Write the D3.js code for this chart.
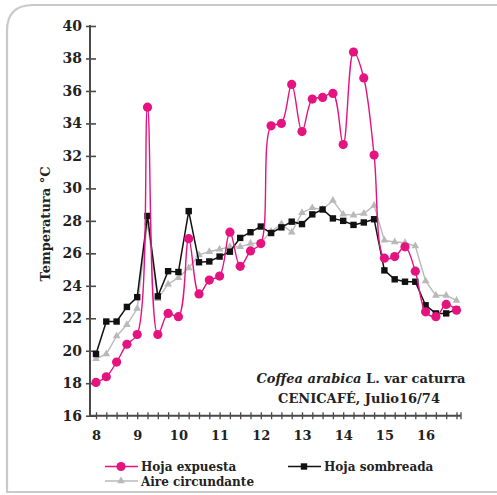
<!DOCTYPE html>
<html>
<head>
<meta charset="utf-8">
<script src="https://cdn.jsdelivr.net/npm/d3@7/dist/d3.min.js"></script>
<style>
  html, body { margin: 0; padding: 0; background: #fff; }
  svg { display: block; }
  text { font-family: "DejaVu Serif", serif; font-weight: bold; fill: #222; }
</style>
</head>
<body>
<svg id="chart" width="497" height="495"></svg>
<script>
// Hour of day (every 15 minutes, 8:00 to 16:45)
const hours = d3.range(8, 17, 0.25);

// Temperature (°C) of the sun-exposed leaf
const hojaExpuesta = [
  18.05, 18.4, 19.3, 20.4, 21.0, 35.0, 21.0, 22.3, 22.1, 26.9,
  23.5, 24.35, 24.6, 27.3, 25.2, 26.15, 26.6, 33.85, 34.0, 36.4,
  33.5, 35.5, 35.6, 35.85, 32.7, 38.4, 36.8, 32.05, 25.7, 25.8,
  26.4, 24.9, 22.4, 22.1, 22.85, 22.5
];

// Temperature (°C) of the shaded leaf
const hojaSombreada = [
  19.8, 21.8, 21.8, 22.7, 23.3, 28.3, 23.35, 24.9, 24.85, 28.6,
  25.45, 25.5, 25.8, 26.1, 26.95, 27.3, 27.65, 27.25, 27.6, 27.95,
  27.8, 28.4, 28.7, 28.15, 28.0, 27.75, 27.9, 28.1, 24.95, 24.4,
  24.25, 24.25, 22.8, 22.3, 22.3, 22.55
];

// Temperature (°C) of the surrounding air
const aireCircundante = [
  19.5, 19.8, 20.9, 21.6, 22.6, 27.9, 23.2, 24.1, 24.5, 25.1,
  25.9, 26.1, 26.25, 26.4, 26.4, 26.6, 26.65, 27.35, 27.8, 27.3,
  28.5, 28.8, 28.7, 29.25, 28.4, 28.35, 28.45, 28.95, 26.8, 26.7,
  26.65, 26.45, 24.3, 23.4, 23.4, 23.1
];

const yTicks = [16, 18, 20, 22, 24, 26, 28, 30, 32, 34, 36, 38, 40];
const xLabels = [8, 9, 10, 11, 12, 13, 14, 15, 16];
const xTicks = d3.range(8, 17, 0.25);

const seriesNames = ["Hoja expuesta", "Hoja sombreada", "Aire circundante"];
const titleItalic = "Coffea arabica";
const titleRest = " L. var caturra";
const subtitle = "CENICAFÉ, Julio16/74";
const yTitle = "Temperatura °C";

const PINK = "#e5137f";
const BLACK = "#111";
const GREY = "#b9b9b9";

const svg = d3.select("#chart");

// rounded panel outline
svg.append("path")
  .attr("d", "M7,493 L7,31 Q7,5 33,5 L497,5 M7,492 L497,492")
  .attr("fill", "none")
  .attr("stroke", "#c9c9c9")
  .attr("stroke-width", 2.2);

const x = d3.scaleLinear().domain([8, 17]).range([96, 466.8]);
const y = d3.scaleLinear().domain([16, 40]).range([415.7, 26]);

const axisColor = "#4a4a4a";

// y axis
const gy = svg.append("g").attr("transform", "translate(90,0)")
  .call(d3.axisLeft(y).tickValues(yTicks).tickSize(0).tickPadding(8));
gy.select(".domain").remove();
gy.selectAll(".tick line").attr("x1", -4).attr("x2", 6)
  .attr("stroke", axisColor).attr("stroke-width", 1.6);
gy.selectAll(".tick text").attr("font-size", 14).attr("fill", "#222")
  .style("font-family", "'DejaVu Serif', serif").style("font-weight", "bold");
svg.append("line").attr("x1", 90).attr("x2", 90).attr("y1", y(40) - 1).attr("y2", y(16))
  .attr("stroke", axisColor).attr("stroke-width", 2);

// x axis: quarter-hour ticks, labels on the hour
const gx = svg.append("g").attr("transform", `translate(0,${y(16)})`)
  .call(d3.axisBottom(x).tickValues(xTicks).tickSize(0).tickPadding(15)
    .tickFormat(d => xLabels.includes(d) ? d : ""));
gx.select(".domain").remove();
gx.selectAll(".tick line").attr("y1", -3.5).attr("y2", 3.5)
  .attr("stroke", axisColor).attr("stroke-width", 1.3);
gx.selectAll(".tick text").attr("font-size", 13).attr("fill", "#222")
  .style("font-family", "'DejaVu Serif', serif").style("font-weight", "bold");
svg.append("line").attr("x1", 89).attr("x2", 461).attr("y1", y(16)).attr("y2", y(16))
  .attr("stroke", axisColor).attr("stroke-width", 2);
svg.append("line").attr("x1", 461).attr("x2", 461).attr("y1", y(16) - 3.5).attr("y2", y(16) + 3.5)
  .attr("stroke", axisColor).attr("stroke-width", 1.3);

// y axis title
svg.append("text")
  .attr("transform", `translate(50,224) rotate(-90)`)
  .attr("text-anchor", "middle")
  .attr("font-size", 13)
  .text(yTitle);

// series lines
const lineStraight = d3.line().x((d, i) => x(hours[i])).y(d => y(d));
const lineSmooth = d3.line().x((d, i) => x(hours[i])).y(d => y(d)).curve(d3.curveCatmullRom.alpha(0.5));

svg.append("path").datum(aireCircundante).attr("d", lineStraight)
  .attr("fill", "none").attr("stroke", GREY).attr("stroke-width", 1.4);
svg.append("g").selectAll("path").data(aireCircundante).join("path")
  .attr("d", d3.symbol(d3.symbolTriangle, 26))
  .attr("transform", (d, i) => `translate(${x(hours[i])},${y(d)})`)
  .attr("fill", GREY);

svg.append("path").datum(hojaSombreada).attr("d", lineStraight)
  .attr("fill", "none").attr("stroke", BLACK).attr("stroke-width", 1.5);
svg.append("g").selectAll("rect").data(hojaSombreada).join("rect")
  .attr("x", (d, i) => x(hours[i]) - 3.2).attr("y", d => y(d) - 3.2)
  .attr("width", 6.4).attr("height", 6.4).attr("fill", BLACK);

svg.append("path").datum(hojaExpuesta).attr("d", lineSmooth)
  .attr("fill", "none").attr("stroke", PINK).attr("stroke-width", 1.4);
svg.append("g").selectAll("circle").data(hojaExpuesta).join("circle")
  .attr("cx", (d, i) => x(hours[i])).attr("cy", d => y(d))
  .attr("r", 4.6).attr("fill", PINK);

// annotation
const t1 = svg.append("text").attr("x", 361).attr("y", 383)
  .attr("text-anchor", "middle").attr("font-size", 13);
t1.append("tspan").attr("font-style", "italic").text(titleItalic);
t1.append("tspan").text(titleRest);
svg.append("text").attr("x", 359).attr("y", 403)
  .attr("text-anchor", "middle").attr("font-size", 13).text(subtitle);

// legend
const legend = [
  { name: seriesNames[0], color: PINK, mark: "circle", x: 105, y: 466.5 },
  { name: seriesNames[1], color: BLACK, mark: "square", x: 288, y: 466.5 },
  { name: seriesNames[2], color: GREY, mark: "triangle", x: 105, y: 481 }
];
const lg = svg.append("g").selectAll("g").data(legend).join("g")
  .attr("transform", d => `translate(${d.x},${d.y})`);
lg.append("line").attr("x1", 0).attr("x2", 33)
  .attr("stroke", d => d.color).attr("stroke-width", 1.5);
lg.each(function (d) {
  const g = d3.select(this);
  if (d.mark === "circle") g.append("circle").attr("cx", 16).attr("r", 4.6).attr("fill", d.color);
  if (d.mark === "square") g.append("rect").attr("x", 12.8).attr("y", -3.2).attr("width", 6.4).attr("height", 6.4).attr("fill", d.color);
  if (d.mark === "triangle") g.append("path").attr("d", d3.symbol(d3.symbolTriangle, 26)).attr("transform", "translate(16,0)").attr("fill", d.color);
});
lg.append("text").attr("x", 36).attr("y", 4.5).attr("font-size", 12).text(d => d.name);
</script>
</body>
</html>
